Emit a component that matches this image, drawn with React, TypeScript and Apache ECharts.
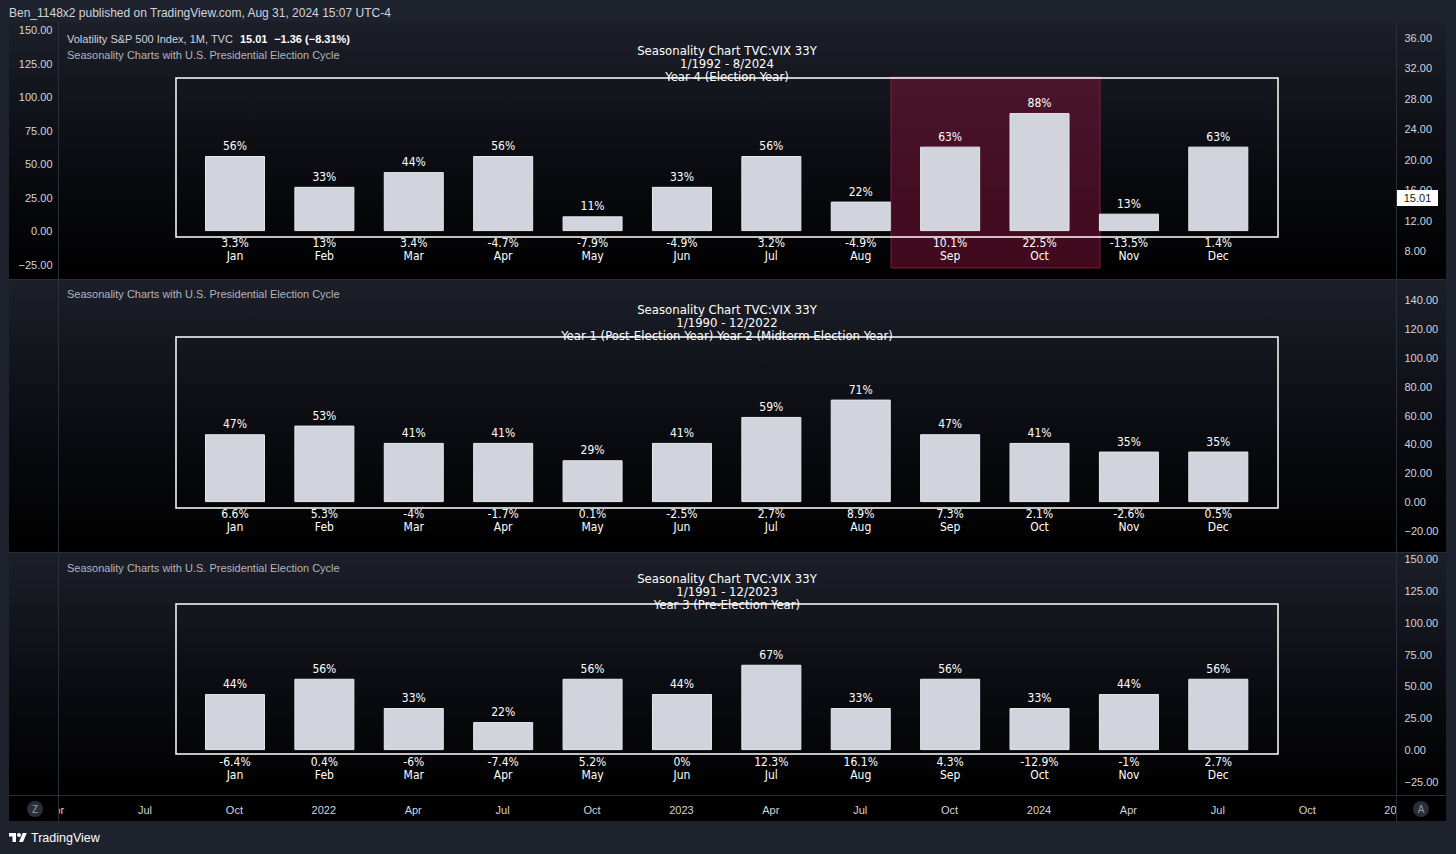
import React, { useEffect, useRef } from "react";
import * as echarts from "echarts";

const months = ["Jan", "Feb", "Mar", "Apr", "May", "Jun", "Jul", "Aug", "Sep", "Oct", "Nov", "Dec"];

// Pane 1: Year 4 (Election Year) 1/1992 - 8/2024
const winRateY4 = [56, 33, 44, 56, 11, 33, 56, 22, 63, 88, 13, 63];
const changeY4 = ["3.3%", "13%", "3.4%", "-4.7%", "-7.9%", "-4.9%", "3.2%", "-4.9%", "10.1%", "22.5%", "-13.5%", "1.4%"];

// Pane 2: Year 1 / Year 2, 1/1990 - 12/2022
const winRateY12 = [47, 53, 41, 41, 29, 41, 59, 71, 47, 41, 35, 35];
const changeY12 = ["6.6%", "5.3%", "-4%", "-1.7%", "0.1%", "-2.5%", "2.7%", "8.9%", "7.3%", "2.1%", "-2.6%", "0.5%"];

// Pane 3: Year 3 (Pre-Election Year) 1/1991 - 12/2023
const winRateY3 = [44, 56, 33, 22, 56, 44, 67, 33, 56, 33, 44, 56];
const changeY3 = ["-6.4%", "0.4%", "-6%", "-7.4%", "5.2%", "0%", "12.3%", "16.1%", "4.3%", "-12.9%", "-1%", "2.7%"];

const timeTicks = ["Apr", "Jul", "Oct", "2022", "Apr", "Jul", "Oct", "2023", "Apr", "Jul", "Oct", "2024", "Apr", "Jul", "Oct", "2025"];

const titlesY4 = ["Seasonality Chart TVC:VIX 33Y", "1/1992 - 8/2024", "Year 4 (Election Year)"];
const titlesY12 = ["Seasonality Chart TVC:VIX 33Y", "1/1990 - 12/2022", "Year 1 (Post-Election Year) Year 2 (Midterm Election Year)"];
const titlesY3 = ["Seasonality Chart TVC:VIX 33Y", "1/1991 - 12/2023", "Year 3 (Pre-Election Year)"];

const TV_LOGO = "M14 22H7V11H0V4h14v18zM28 22h-8l7.5-18h8L28 22z";
echarts.graphic.registerShape("tvlogo", echarts.graphic.extendPath(TV_LOGO, {}));

const COND = "'DejaVu Sans Condensed', 'Liberation Sans Narrow', 'Roboto Condensed', sans-serif";
const UI = "'Liberation Sans', Arial, sans-serif";
const AXIS_TXT = "#d1d4dc";
const SEP = "#2a2e39";

const GL = 190.3;
const GR = 193;
const RIGHT_OFF = 1396.5 - (1456 - GR);
const LEFT_OFF = GL - 58.5;

function priceFmt(v: number) {
  return v.toFixed(2).replace("-", "\u2212");
}

function monthAxis(gridIndex: number, changes: string[]) {
  return {
    type: "category",
    gridIndex,
    data: months,
    boundaryGap: true,
    axisLine: { show: false },
    axisTick: { show: false },
    splitLine: { show: false },
    axisLabel: {
      interval: 0,
      margin: 5,
      formatter: (val: string, idx: number) => `{c|${changes[idx]}}\n{m|${val}}`,
      rich: {
        c: { color: "#ffffff", fontSize: 12, lineHeight: 13, fontFamily: COND },
        m: { color: "#ffffff", fontSize: 12, lineHeight: 13, fontFamily: COND },
      },
    },
  };
}

function hiddenX(gridIndex: number) {
  return { type: "category", gridIndex, data: months, show: false };
}

function hiddenY(gridIndex: number, min: number, max: number) {
  return { type: "value", gridIndex, min, max, show: false, splitLine: { show: false } };
}

function priceAxis(gridIndex: number, min: number, max: number, interval: number, position: string, offset: number, margin: number) {
  return {
    type: "value",
    gridIndex,
    min,
    max,
    interval,
    position,
    offset,
    axisLine: { show: false },
    axisTick: { show: false },
    splitLine: { show: false },
    axisLabel: { color: AXIS_TXT, fontSize: 11, fontFamily: UI, margin, formatter: priceFmt },
  };
}

function barSeries(xi: number, yi: number, data: number[]) {
  return {
    type: "bar",
    xAxisIndex: xi,
    yAxisIndex: yi,
    data,
    barWidth: 60,
    itemStyle: { color: "#d1d4dc", borderColor: "#e6e8ee", borderWidth: 1 },
    label: {
      show: true,
      position: "top",
      distance: 4,
      formatter: "{c}%",
      color: "#ffffff",
      fontSize: 12,
      fontFamily: COND,
    },
    z: 3,
  };
}

function paneBg(y: number, h: number) {
  return {
    type: "rect",
    z: -100,
    silent: true,
    shape: { x: 9, y, width: 1437, height: h },
    style: {
      fill: {
        type: "linear",
        x: 0,
        y: 0,
        x2: 0,
        y2: 1,
        colorStops: [
          { offset: 0, color: "#1c1f29" },
          { offset: 0.55, color: "#0b0c11" },
          { offset: 1, color: "#000000" },
        ],
      },
    },
  };
}

function titleBlock(lines: string[], y0: number) {
  return lines.map((t, i) => ({
    type: "text",
    z: 8,
    x: 727,
    y: y0 + i * 13,
    style: { text: t, fill: "#ffffff", fontSize: 13, fontFamily: COND, align: "center", verticalAlign: "middle" },
  }));
}

function box(y: number, h: number) {
  return {
    type: "rect",
    z: 9,
    silent: true,
    shape: { x: 176, y, width: 1102, height: h },
    style: { fill: "none", stroke: "#ffffff", lineWidth: 1.5 },
  };
}

function studyLabel(y: number) {
  return {
    type: "text",
    z: 8,
    x: 67,
    y,
    style: {
      text: "Seasonality Charts with U.S. Presidential Election Cycle",
      fill: "#b2b5be",
      fontSize: 11,
      fontFamily: UI,
      verticalAlign: "middle",
    },
  };
}

function hline(y: number) {
  return { type: "line", z: 20, silent: true, shape: { x1: 9, y1: y, x2: 1446, y2: y }, style: { stroke: SEP, lineWidth: 1 } };
}
function vline(x: number) {
  return { type: "line", z: 60, silent: true, shape: { x1: x, y1: 22, x2: x, y2: 821 }, style: { stroke: SEP, lineWidth: 1 } };
}

function roundBtn(cx: number, label: string) {
  return [
    { type: "circle", z: 61, shape: { cx, cy: 809, r: 8 }, style: { fill: "#2a2e39" } },
    {
      type: "text",
      z: 62,
      x: cx,
      y: 809,
      style: { text: label, fill: "#9598a1", fontSize: 10, fontFamily: UI, align: "center", verticalAlign: "middle" },
    },
  ];
}

export default function App() {
  const ref = useRef<HTMLDivElement>(null);

  useEffect(() => {
    if (!ref.current) return;
    const chart = echarts.init(ref.current, undefined, { renderer: "svg" });

    const option: any = {
      animation: false,
      backgroundColor: "#1e222d",
      grid: [
        { left: GL, right: GR, top: 30, height: 201.1 }, // 0 pane1 bars (0..150)
        { left: GL, right: GR, top: 30, height: 235 }, // 1 pane1 left price axis
        { left: GL, right: GR, top: 38, height: 213 }, // 2 pane1 right price axis
        { left: GL, right: GR, top: 300, height: 202.1 }, // 3 pane2 bars (0..140)
        { left: GL, right: GR, top: 300, height: 231 }, // 4 pane2 right axis
        { left: GL, right: GR, top: 559, height: 191.1 }, // 5 pane3 bars (0..150)
        { left: GL, right: GR, top: 559, height: 223 }, // 6 pane3 right axis
        { left: 55.6, width: 1341, top: 790, height: 5 }, // 7 time axis
      ],
      xAxis: [
        monthAxis(0, changeY4),
        hiddenX(1),
        hiddenX(2),
        monthAxis(3, changeY12),
        hiddenX(4),
        monthAxis(5, changeY3),
        hiddenX(6),
        {
          type: "category",
          gridIndex: 7,
          data: timeTicks,
          boundaryGap: false,
          axisLine: { show: false },
          axisTick: { show: false },
          splitLine: { show: false },
          axisLabel: { interval: 0, color: AXIS_TXT, fontSize: 11, fontFamily: UI, margin: 9 },
        },
      ],
      yAxis: [
        hiddenY(0, 0, 150),
        priceAxis(1, -25, 150, 25, "left", LEFT_OFF, 6),
        priceAxis(2, 8, 36, 4, "right", RIGHT_OFF, 8),
        hiddenY(3, 0, 140),
        priceAxis(4, -20, 140, 20, "right", RIGHT_OFF, 8),
        hiddenY(5, 0, 150),
        priceAxis(6, -25, 150, 25, "right", RIGHT_OFF, 8),
        hiddenY(7, 0, 1),
      ],
      series: [barSeries(0, 0, winRateY4), barSeries(3, 3, winRateY12), barSeries(5, 5, winRateY3)],
      graphic: [
        {
          type: "group",
          elements: [
            paneBg(22, 257),
            paneBg(280, 272),
            paneBg(553, 242),
            { type: "rect", z: -100, shape: { x: 9, y: 795, width: 1437, height: 26 }, style: { fill: "#000000" } },
            hline(279.5),
            hline(552.5),
            hline(795.5),
            // highlight rectangle around Sep-Oct (below the axis labels and bars)
            {
              type: "rect",
              z: -50,
              silent: true,
              shape: { x: 891, y: 77, width: 209, height: 191 },
              style: { fill: "rgba(128, 18, 56, 0.5)", stroke: "rgba(150, 30, 75, 0.8)", lineWidth: 1 },
            },
            box(78, 159),
            box(337, 171),
            box(604, 150),
            ...titleBlock(titlesY4, 50),
            ...titleBlock(titlesY12, 309),
            ...titleBlock(titlesY3, 578),
            {
              type: "text",
              z: 8,
              x: 67,
              y: 39,
              style: {
                text: "{n|Volatility S&P 500 Index, 1M, TVC}  {b|15.01}  {b|\u22121.36 (\u22128.31%)}",
                verticalAlign: "middle",
                rich: {
                  n: { fill: "#d1d4dc", fontSize: 11, fontFamily: UI },
                  b: { fill: "#ffffff", fontSize: 11, fontFamily: UI, fontWeight: "bold" },
                },
              },
            },
            studyLabel(55),
            studyLabel(294),
            studyLabel(568),
            // cover side columns of the time axis row
            { type: "rect", z: 59, shape: { x: 9, y: 796, width: 49.5, height: 25 }, style: { fill: "#000000" } },
            { type: "rect", z: 59, shape: { x: 1396.5, y: 796, width: 49.5, height: 25 }, style: { fill: "#000000" } },
            vline(58.5),
            vline(1396.5),
            ...roundBtn(35, "Z"),
            ...roundBtn(1421, "A"),
            // current price tag
            { type: "rect", z: 70, shape: { x: 1397, y: 190, width: 41, height: 16 }, style: { fill: "#ffffff" } },
            {
              type: "text",
              z: 71,
              x: 1417.5,
              y: 198,
              style: { text: "15.01", fill: "#131722", fontSize: 11, fontFamily: UI, align: "center", verticalAlign: "middle" },
            },
            // header
            {
              type: "text",
              z: 8,
              x: 9,
              y: 13,
              style: {
                text: "Ben_1148x2 published on TradingView.com, Aug 31, 2024 15:07 UTC-4",
                fill: "#d1d4dc",
                fontSize: 12,
                fontFamily: UI,
                verticalAlign: "middle",
              },
            },
            // footer logo
            { type: "tvlogo", z: 8, x: 9, y: 831, scaleX: 0.5, scaleY: 0.5, style: { fill: "#ffffff" } },
            { type: "circle", z: 8, shape: { cx: 19, cy: 835, r: 2 }, style: { fill: "#ffffff" } },
            {
              type: "text",
              z: 8,
              x: 31,
              y: 838,
              style: { text: "TradingView", fill: "#ffffff", fontSize: 12.5, fontFamily: UI, verticalAlign: "middle" },
            },
          ],
        },
      ],
    };

    chart.setOption(option);
    return () => chart.dispose();
  }, []);

  return <div ref={ref} style={{ position: "fixed", left: 0, top: 0, width: 1456, height: 854 }} />;
}
